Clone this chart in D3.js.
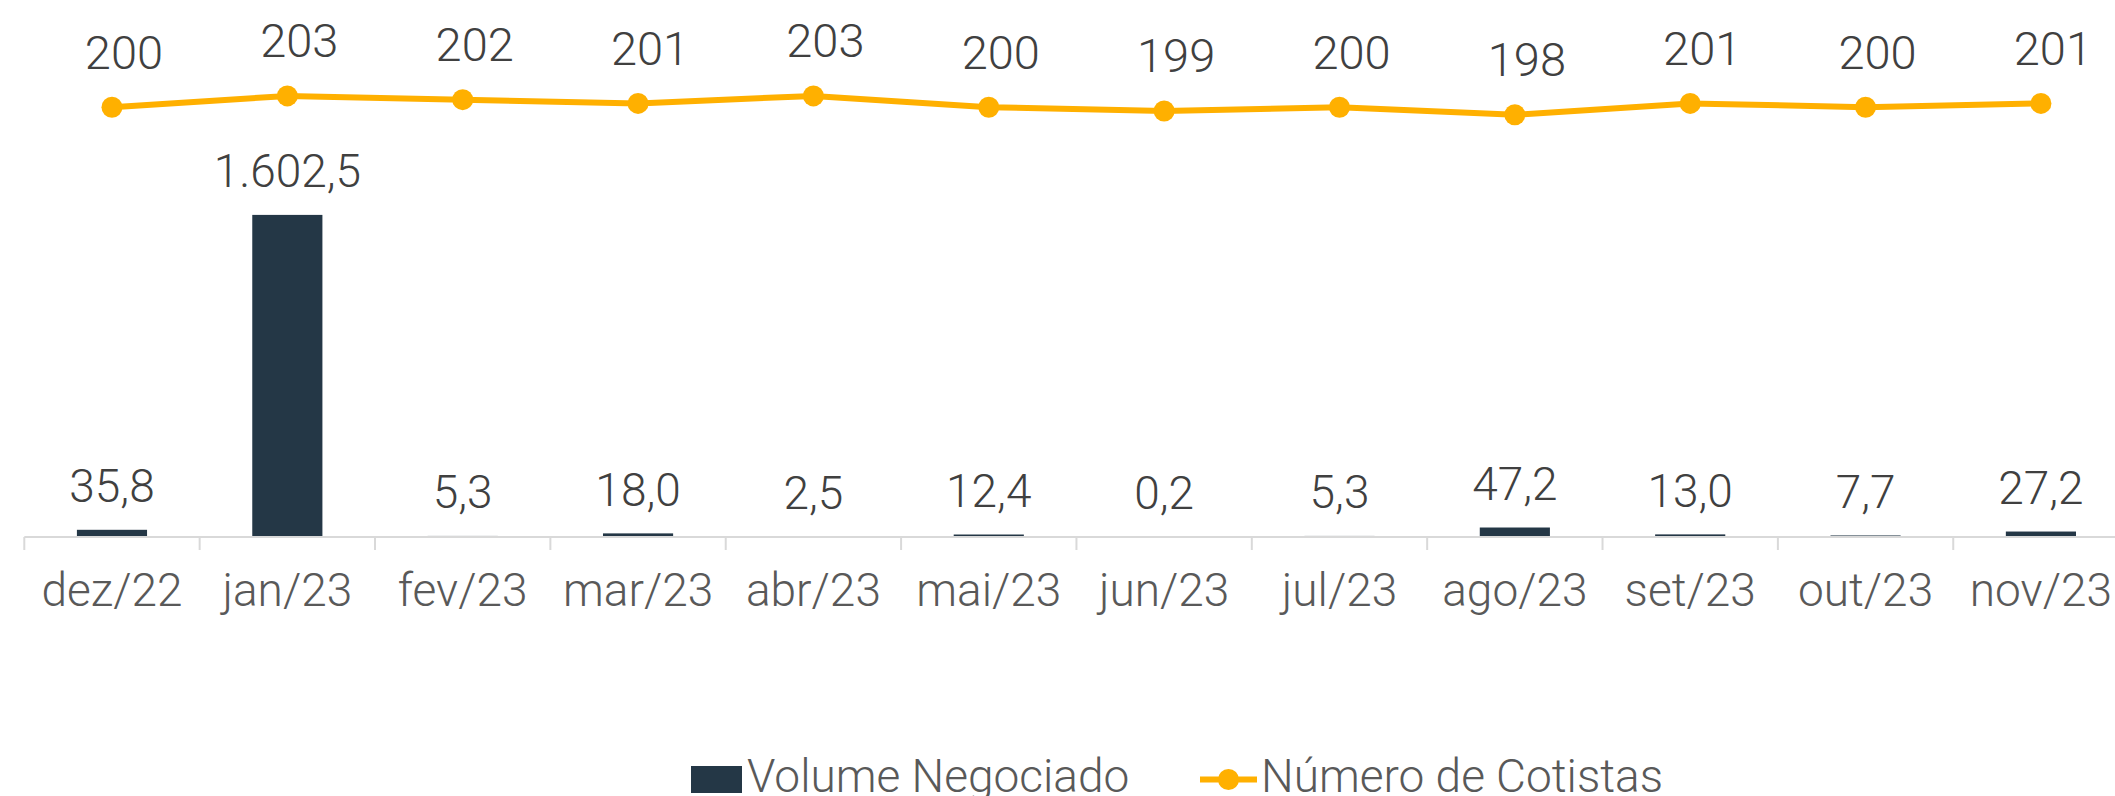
<!DOCTYPE html>
<html lang="pt">
<head>
  <meta charset="UTF-8">
  <title>Volume Negociado e Número de Cotistas</title>
  <script src="https://d3js.org/d3.v7.min.js"></script>
  <style>
    body {
      margin: 0;
      padding: 0;
      background: #fff;
      overflow: hidden;
    }
    svg text {
      font-family: Roboto, "Noto Sans", sans-serif;
      font-weight: 300;
    }
  </style>
</head>
<body>
  <div id="chart"></div>

  <script>
    const months = ["dez/22", "jan/23", "fev/23", "mar/23", "abr/23", "mai/23",
                    "jun/23", "jul/23", "ago/23", "set/23", "out/23", "nov/23"];
    const volume = [35.8, 1602.5, 5.3, 18.0, 2.5, 12.4, 0.2, 5.3, 47.2, 13.0, 7.7, 27.2];
    const cotistas = [200, 203, 202, 201, 203, 200, 199, 200, 198, 201, 200, 201];
    const seriesNames = ["Volume Negociado", "Número de Cotistas"];

    const width = 2115;
    const height = 796;
    const axisY = 537;

    const barColor = "#243746";
    const lineColor = "#FFB000";

    const ptBR = d3.formatLocale({ decimal: ",", thousands: ".", grouping: [3], currency: ["R$", ""] });
    const fmtVol = ptBR.format(",.1f");

    const data = months.map((m, i) => ({ month: m, vol: volume[i], cot: cotistas[i] }));

    const svg = d3.select("#chart")
      .append("svg")
      .attr("width", width)
      .attr("height", height);

    // categories run a bit past the right edge, like the original
    const x = d3.scaleBand()
      .domain(months)
      .range([24.3, 2128.6])
      .paddingInner(0.6)
      .paddingOuter(0.3);

    const step = x.step();
    const left = x.range()[0];

    const y = d3.scaleLinear().domain([0, 2000]).range([axisY, 135]);
    const y2 = d3.scaleLinear().domain([86, 210]).range([axisY, 69.5]);

    // bars
    svg.selectAll(".bar")
      .data(data)
      .join("rect")
      .attr("class", "bar")
      .attr("x", d => x(d.month))
      .attr("width", x.bandwidth())
      .attr("y", d => y(d.vol))
      .attr("height", d => axisY - y(d.vol))
      .attr("fill", barColor);

    // category axis
    const xAxis = d3.axisBottom(x).tickSize(0).tickPadding(0);
    const gx = svg.append("g")
      .attr("transform", `translate(0,${axisY})`)
      .call(xAxis);
    gx.select(".domain").remove();
    gx.selectAll("text")
      .attr("y", 69)
      .attr("dy", 0)
      .attr("fill", "#595959")
      .style("font-size", "46px");

    svg.append("line")
      .attr("x1", left).attr("x2", width)
      .attr("y1", axisY).attr("y2", axisY)
      .attr("stroke", "#d9d9d9")
      .attr("stroke-width", 2);

    svg.selectAll(".tick-mark")
      .data(d3.range(months.length + 1))
      .join("line")
      .attr("class", "tick-mark")
      .attr("x1", i => left + i * step)
      .attr("x2", i => left + i * step)
      .attr("y1", axisY)
      .attr("y2", axisY + 13)
      .attr("stroke", "#d9d9d9")
      .attr("stroke-width", 2);

    // bar labels
    svg.selectAll(".bar-label")
      .data(data)
      .join("text")
      .attr("class", "bar-label")
      .attr("x", d => x(d.month) + x.bandwidth() / 2)
      .attr("y", d => y(d.vol) - 27.5)
      .attr("text-anchor", "middle")
      .attr("fill", "#404040")
      .style("font-size", "46px")
      .text(d => fmtVol(d.vol));

    // line series
    const cx = d => x(d.month) + x.bandwidth() / 2;

    const line = d3.line()
      .x(cx)
      .y(d => y2(d.cot));

    svg.append("path")
      .datum(data)
      .attr("fill", "none")
      .attr("stroke", lineColor)
      .attr("stroke-width", 6)
      .attr("d", line);

    svg.selectAll(".dot")
      .data(data)
      .join("circle")
      .attr("class", "dot")
      .attr("cx", cx)
      .attr("cy", d => y2(d.cot))
      .attr("r", 10.5)
      .attr("fill", lineColor);

    svg.selectAll(".line-label")
      .data(data)
      .join("text")
      .attr("class", "line-label")
      .attr("x", d => cx(d) + 12)
      .attr("y", d => y2(d.cot) - 38.5)
      .attr("text-anchor", "middle")
      .attr("fill", "#404040")
      .style("font-size", "47px")
      .text(d => d.cot);

    // legend
    const legend = svg.append("g");

    legend.append("rect")
      .attr("x", 691).attr("y", 766)
      .attr("width", 51).attr("height", 27)
      .attr("fill", barColor);

    legend.append("text")
      .attr("x", 747).attr("y", 792)
      .attr("fill", "#595959")
      .style("font-size", "46px")
      .text(seriesNames[0]);

    legend.append("line")
      .attr("x1", 1200).attr("x2", 1257)
      .attr("y1", 779.5).attr("y2", 779.5)
      .attr("stroke", lineColor)
      .attr("stroke-width", 6);

    legend.append("circle")
      .attr("cx", 1228.5).attr("cy", 779.5)
      .attr("r", 10.5)
      .attr("fill", lineColor);

    legend.append("text")
      .attr("x", 1261).attr("y", 792)
      .attr("fill", "#595959")
      .style("font-size", "46px")
      .text(seriesNames[1]);
  </script>
</body>
</html>
